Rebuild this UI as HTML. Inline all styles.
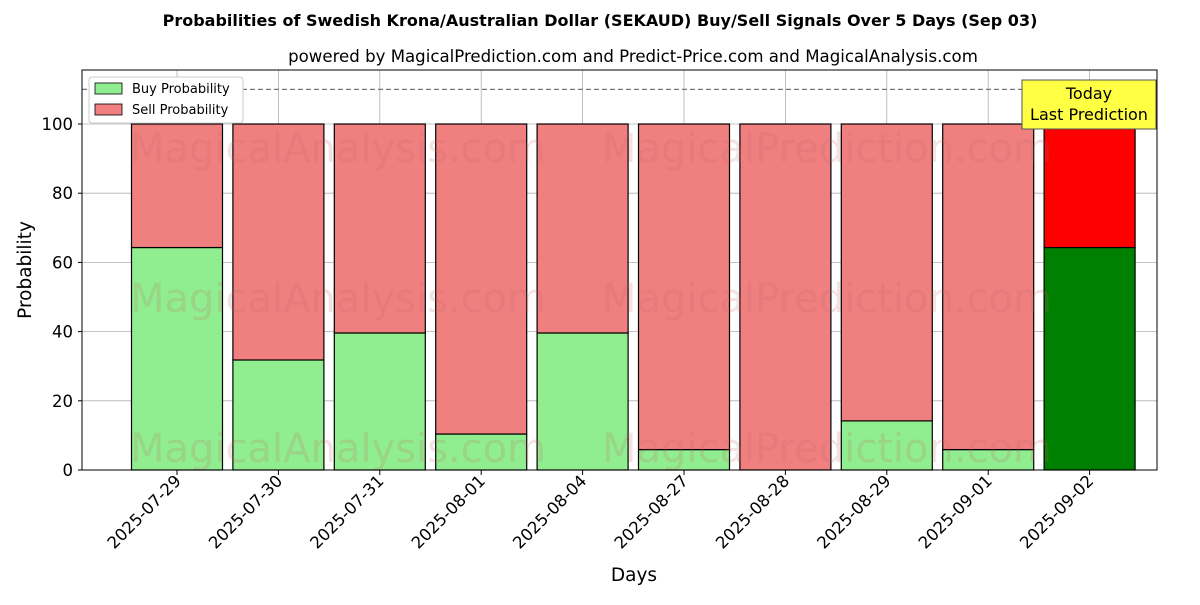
<!DOCTYPE html>
<html><head><meta charset="utf-8"><style>
body{margin:0;background:#fff;font-family:"Liberation Sans","DejaVu Sans",sans-serif;}
</style></head><body>
<svg id="chart" width="1200" height="600" xmlns="http://www.w3.org/2000/svg" font-family="DejaVu Sans, Liberation Sans, sans-serif">
<text x="600" y="26" text-anchor="middle" font-size="16" font-weight="bold">Probabilities of Swedish Krona/Australian Dollar (SEKAUD) Buy/Sell Signals Over 5 Days (Sep 03)</text>
<text x="633" y="62" text-anchor="middle" font-size="16.6">powered by MagicalPrediction.com and Predict-Price.com and MagicalAnalysis.com</text>
<g id="grid"></g>
<g id="bars"></g>
<g id="wm" fill="#c06060" fill-opacity="0.18" font-size="40">
<text x="130" y="162">MagicalAnalysis.com</text>
<text x="602" y="162">MagicalPrediction.com</text>
<text x="130" y="312">MagicalAnalysis.com</text>
<text x="602" y="312">MagicalPrediction.com</text>
<text x="130" y="462">MagicalAnalysis.com</text>
<text x="602" y="462">MagicalPrediction.com</text>
</g>
<line x1="82" x2="1157" y1="89.4" y2="89.4" stroke="#777" stroke-dasharray="5,3" stroke-width="1.2"/>
<rect x="82" y="70" width="1075" height="400" fill="none" stroke="#000" stroke-width="1"/>
<g id="axes" font-size="16.5"></g>
<text transform="translate(31,270) rotate(-90)" text-anchor="middle" font-size="18.5">Probability</text>
<text x="634" y="581" text-anchor="middle" font-size="18.5">Days</text>
<g>
<rect x="89" y="77" width="154" height="46" fill="#fff" stroke="#ccc" rx="3"/>
<rect x="95" y="83" width="27" height="11" fill="#90ee90" stroke="#000" stroke-width="0.8"/>
<text x="132" y="93" font-size="13">Buy Probability</text>
<rect x="95" y="104" width="27" height="11" fill="#f08080" stroke="#000" stroke-width="0.8"/>
<text x="132" y="114" font-size="13">Sell Probability</text>
</g>
<g>
<rect x="1022" y="80" width="134" height="49" fill="#ffff44" stroke="#555" stroke-width="1"/>
<text x="1089" y="99" text-anchor="middle" font-size="16">Today</text>
<text x="1089" y="120" text-anchor="middle" font-size="16">Last Prediction</text>
</g>
</svg>
<script>
const categories=["2025-07-29","2025-07-30","2025-07-31","2025-08-01","2025-08-04","2025-08-27","2025-08-28","2025-08-29","2025-09-01","2025-09-02"];
const buyValues=[64.3,31.8,39.6,10.4,39.6,5.9,0,14.2,5.9,64.3];
const sellValues=[35.7,68.2,60.4,89.6,60.4,94.1,100,85.8,94.1,35.7];
const yTicks=[0,20,40,60,80,100];
const NS="http://www.w3.org/2000/svg";
function xScale(i){return 177+i*101.4;}
function yScale(v){return 470-v*3.46;}
function mk(tag,attrs,parent){const e=document.createElementNS(NS,tag);for(const k in attrs)e.setAttribute(k,attrs[k]);parent.appendChild(e);return e;}
const grid=document.getElementById('grid'),bars=document.getElementById('bars'),axes=document.getElementById('axes');
yTicks.forEach(t=>{
 const y=yScale(t);
 const g=mk('line',{x1:82,x2:1157,y1:y,y2:y,stroke:'#b0b0b0','stroke-width':0.8},grid);
 
 
 mk('line',{x1:78,x2:82,y1:y,y2:y,stroke:'#000'},axes);
 const l=mk('text',{x:73,y:y+6,'text-anchor':'end'},axes);l.textContent=t;
 
 
});
categories.forEach((c,i)=>{
 const x=xScale(i),w=91,last=i===categories.length-1;
 const gl=mk('line',{x1:x,x2:x,y1:70,y2:470,stroke:'#b0b0b0','stroke-width':0.8},grid);
 
 
 const b=mk('rect',{x:x-w/2,y:yScale(buyValues[i]),width:w,height:yScale(0)-yScale(buyValues[i]),fill:last?'#008000':'#90ee90',stroke:'#000','stroke-width':1.2},bars);
 
 
 const s=mk('rect',{x:x-w/2,y:yScale(buyValues[i]+sellValues[i]),width:w,height:yScale(buyValues[i])-yScale(buyValues[i]+sellValues[i]),fill:last?'#ff0000':'#f08080',stroke:'#000','stroke-width':1.2},bars);
 
 
 mk('line',{x1:x,x2:x,y1:470,y2:475,stroke:'#000'},axes);
 const t=mk('text',{transform:`translate(${x+5},${482}) rotate(-45)`,'text-anchor':'end'},axes);t.textContent=c;
 
 
});
</script>
</body></html>
